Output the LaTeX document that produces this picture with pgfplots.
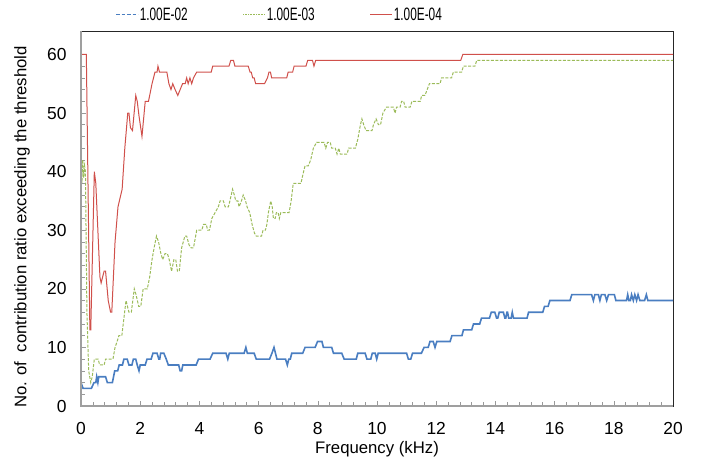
\documentclass[border=0pt]{standalone}
\usepackage{pgfplots}
\pgfplotsset{compat=1.18}
\usepackage{fontspec}
\setmainfont{Liberation Sans}
\newfontfamily\legendfont[FakeStretch=0.66]{Liberation Sans}
\definecolor{cblue}{RGB}{74,126,193}
\definecolor{cgreen}{RGB}{155,187,89}
\definecolor{cred}{RGB}{208,80,75}
\begin{document}
\begin{tikzpicture}
\begin{axis}[
  width=592bp, height=375bp, scale only axis,
  xmin=0, xmax=20, ymin=0, ymax=64,
  xtick={0,2,...,20}, ytick={0,10,...,60},
  minor x tick num=4, minor y tick num=4,
  tick align=inside, xtick pos=bottom, ytick pos=left,
  major tick length=5bp, minor tick length=4bp,
  every tick/.style={draw=gray!80, line width=0.6bp},
  axis line style={draw=black!85, line width=0.8bp},
  tick label style={font=\fontsize{17.5}{20}\selectfont},
  xticklabel style={yshift=-13bp},
  yticklabel style={xshift=-11bp},
  /pgf/number format/assume math mode=true,
  xlabel={Frequency (kHz)},
  ylabel={No. of \ contribution ratio exceeding the threshold},
  label style={font=\fontsize{16.8}{19}\selectfont},
  xlabel style={at={(axis description cs:0.5,-0.115)}, anchor=center},
  ylabel style={at={(axis description cs:-0.0997,0.478)}, anchor=center},
  legend columns=3,
  legend style={at={(axis description cs:0.053,1.043)}, anchor=west, draw=none, fill=none,
    font=\legendfont\fontsize{18}{20}\selectfont, nodes={inner sep=1bp},
    /tikz/every even column/.append style={column sep=54bp}},
  legend image code/.code={\draw[#1] (0bp,0bp) -- (22bp,0bp);},
]
\addlegendimage{cblue, line width=1.2bp, dash pattern=on 3.5bp off 2bp}
\addlegendentry{1.00E-02}
\addlegendimage{cgreen, line width=1bp, dash pattern=on 1bp off 0.6bp}
\addlegendentry{1.00E-03}
\addlegendimage{cred, line width=1bp}
\addlegendentry{1.00E-04}

% 1.00E-02
\addplot[cblue, line width=1.6bp, forget plot] coordinates {
(0,4) (0.07,3) (0.35,3) (0.44,4) (0.5,4) (0.53,5) (0.57,4) (0.6,5) (0.83,5) (0.89,4) (1.06,4)
(1.14,6) (1.24,6) (1.29,7) (1.4,7) (1.45,8) (1.56,8) (1.62,7) (1.72,7) (1.77,8) (1.85,8) (1.9,7)
(1.96,6) (2.0,7) (2.17,7) (2.23,8) (2.37,8) (2.43,9) (2.57,9) (2.63,8) (2.66,8) (2.69,9) (2.8,9)
(2.88,8) (2.95,7) (3.3,7) (3.35,6) (3.4,6) (3.44,7) (3.89,7) (3.97,8) (4.36,8) (4.45,9) (4.9,9)
(4.96,8) (5.01,9) (5.51,9) (5.57,10) (5.62,9) (5.85,9) (5.92,8) (6.37,8) (6.45,9) (6.52,10)
(6.57,9) (6.62,8) (6.91,8) (6.97,7) (7.02,8) (7.07,8) (7.12,9) (7.49,9) (7.57,10) (7.91,10)
(7.99,11) (8.14,11) (8.19,10) (8.47,10) (8.53,9) (8.81,9) (8.89,8) (9.3,8) (9.35,9) (9.6,9)
(9.66,8) (9.79,8) (9.84,9) (9.94,9) (9.99,8) (10.04,9) (11.0,9) (11.06,8) (11.14,8) (11.2,9)
(11.5,9) (11.59,10) (11.73,10) (11.79,11) (11.9,11) (11.96,10) (12.02,11) (12.47,11) (12.53,12)
(12.87,12) (12.92,13) (13.2,13) (13.26,14) (13.47,14) (13.53,15) (13.8,15) (13.86,16) (13.98,16)
(14.04,15) (14.08,15) (14.13,16) (14.27,16) (14.32,15) (14.35,15) (14.39,16) (14.41,16) (14.45,15)
(14.53,15) (14.57,16) (14.61,15) (15.07,15) (15.12,16) (15.6,16) (15.66,17) (15.78,17) (15.84,18)
(16.52,18) (16.58,19) (17.25,19) (17.31,18) (17.36,19) (17.48,19) (17.53,18) (17.58,19) (17.7,19)
(17.76,18) (17.82,19) (18.02,19) (18.07,18) (18.43,18) (18.47,19) (18.51,18) (18.56,18) (18.6,19)
(18.66,18) (18.71,19) (18.77,18) (18.82,19) (18.88,18) (19.04,18) (19.1,19) (19.15,18) (20,18)
};
% 1.00E-03
\addplot[cgreen, line width=1bp, dash pattern=on 3bp off 1.5bp, forget plot] coordinates {
(0,43) (0.03,38) (0.06,42) (0.09,39) (0.12,41) (0.15,40) (0.2,16) (0.26,6) (0.33,4) (0.38,5)
(0.45,8) (0.58,8) (0.63,7) (0.78,7) (0.83,8) (1.08,8) (1.15,10) (1.22,11) (1.28,12) (1.38,12)
(1.45,15) (1.52,18) (1.57,17) (1.62,16) (1.7,16) (1.8,20) (1.86,19) (1.95,17) (2.02,17) (2.1,20)
(2.24,20) (2.32,22) (2.4,25) (2.47,27) (2.55,29) (2.62,28) (2.7,26) (2.76,25) (2.84,26) (2.92,26)
(2.98,25) (3.06,23) (3.14,25) (3.2,25) (3.26,23) (3.32,23) (3.4,27) (3.51,29) (3.57,29) (3.65,27.5)
(3.72,27) (3.8,27) (3.91,30) (4.08,30) (4.14,31) (4.23,31) (4.28,30) (4.34,30) (4.42,32) (4.53,33)
(4.64,34) (4.7,35) (4.81,35) (4.87,34) (4.98,34) (5.03,35) (5.12,37) (5.18,36) (5.23,35) (5.3,35)
(5.34,34) (5.42,35) (5.48,36) (5.56,35) (5.61,34) (5.7,33) (5.78,31) (5.86,29.5) (5.92,29) (6.1,29)
(6.15,30) (6.23,30) (6.28,31) (6.33,33) (6.41,35) (6.46,34) (6.5,32) (6.56,32) (6.6,33) (6.66,33)
(6.7,32) (6.75,33) (7.03,33) (7.1,35) (7.17,38) (7.43,38) (7.52,40) (7.57,41) (7.68,41) (7.76,42)
(7.85,44) (7.96,45) (8.21,45) (8.27,44) (8.33,45) (8.42,45) (8.47,44) (8.59,44) (8.65,43) (8.71,44)
(8.76,43) (8.99,43) (9.04,44) (9.27,44) (9.35,45.5) (9.44,48) (9.49,49) (9.55,48) (9.63,47) (9.83,47)
(9.88,48) (9.97,49) (10.05,48) (10.12,48) (10.2,50) (10.32,51) (10.55,51) (10.61,50) (10.66,51)
(10.78,51) (10.83,52) (10.9,52) (10.95,51) (11.12,51) (11.18,52) (11.46,52) (11.51,53) (11.62,53)
(11.77,55) (12.13,55) (12.18,56) (12.52,56) (12.58,57) (12.86,57) (12.92,58) (13.31,58) (13.37,59) (20,59)
};
% 1.00E-04
\addplot[cred, line width=1bp, forget plot] coordinates {
(0,60) (0.18,60) (0.3,13) (0.33,13) (0.45,40) (0.5,38) (0.64,22) (0.68,21) (0.78,23) (0.83,23)
(0.92,18) (1.0,16) (1.04,16) (1.15,28) (1.25,34) (1.39,37) (1.48,44) (1.58,50) (1.62,50) (1.67,47.5)
(1.74,47) (1.85,53) (1.9,52) (1.96,49.5) (2.06,46) (2.17,52) (2.28,52) (2.4,55) (2.5,57) (2.57,57)
(2.6,58) (2.65,57) (2.9,57) (2.97,55) (3.04,54) (3.1,55) (3.18,54) (3.27,53) (3.35,54) (3.43,55)
(3.52,55) (3.57,56) (3.62,55) (3.68,56) (3.74,55) (3.8,56) (3.91,57) (4.4,57) (4.45,58) (5.0,58)
(5.06,59) (5.15,59) (5.2,58) (5.65,58) (5.71,57) (5.75,57) (5.8,56) (5.85,56) (5.9,55) (6.2,55)
(6.3,56) (6.35,57) (6.4,57) (6.44,56) (6.95,56) (7.0,57) (7.15,57) (7.2,58) (7.6,58) (7.66,59)
(7.82,59) (7.87,58) (7.93,59) (12.83,59) (12.9,60) (20,60)
};
\end{axis}
\draw[gray!75, line width=1.6bp] (current axis.north west) -- (current axis.south west) -- (current axis.south east);
\pgfresetboundingbox
\path (current axis.south west) ++(-81bp,-58bp) rectangle ++(702bp,464bp);
\end{tikzpicture}
\end{document}
